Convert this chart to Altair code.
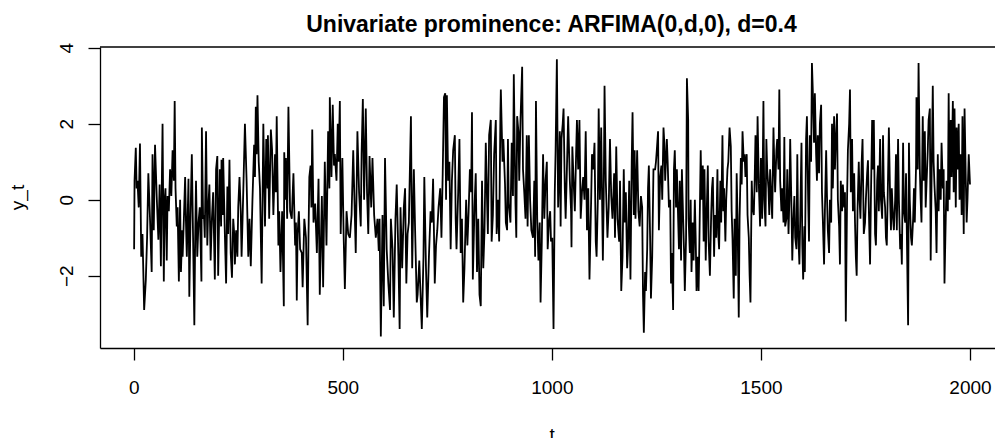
import altair as alt
import pandas as pd

# (t, y_t) readings of the series, grouped by stretch of the time axis
seg_a = [(1,-1.3),(2,0.5),(5,1.37),(7,0.3),(9,0.5),(12,-0.2),(15,1.48),(18,-1.5),(21,-0.9),(25,-2.9),(29,-2.1),(32,-1.0),(35,0.7),(39,-0.5),(43,-1.9),(45,1.2),(48,-0.8),(51,1.45),(55,0.1),(59,-1.05),(62,0.4),(65,-1.75),(67,0.2),(69,2.0),(72,-2.15),(74,0.0),(76,0.3),(79,-1.6),(81,0.1),(84,-0.3),(87,0.8),(90,0.1),(93,1.3),(96,0.5),(98,2.6),(100,0.3),(103,-0.7),(105,-0.2),(108,-2.15),(111,0.0),(113,-1.9),(116,-0.8),(117,-1.5),(120,-0.5),(123,0.6),(125,-0.6),(127,-1.5),(131,0.55),(133,-2.55),(136,-0.4),(139,1.2),(142,-1.0),(145,-3.3),(147,-1.0),(149,0.5),(152,-1.5),(155,-0.6),(158,-0.2),(162,-2.15),(163,1.9),(166,-0.5),(168,-0.4),(170,-1.0),(173,1.8),(176,-1.2),(178,-0.3),(181,0.4),(184,-1.6),(187,-0.5),(190,0.2),(194,-2.1),(197,0.8),(200,1.15),(202,-2.0),(205,0.0),(206,0.8),(209,-0.7),(210,1.05),(213,-0.4),(214,1.1),(218,-0.9),(221,-2.2),(224,0.35),(226,-0.9),(229,1.05),(232,-1.4),(235,-2.05),(238,-0.5),(241,-1.0),(242,-1.7),(245,-0.8),(248,-1.5),(250,-0.2),(253,0.6),(256,-0.3),(258,-1.5),(262,0.2),(266,2.0),(270,0.5),(274,-1.5),(277,-0.5),(280,-1.75),(284,0.0),(288,1.45),(290,0.6),(292,2.45),(294,1.2),(296,2.75),(299,1.0),(302,0.3),(306,-2.2),(310,2.0),(314,-0.7),(317,1.6),(320,0.3),(321,1.7),(324,-0.5),(328,1.85),(331,1.3),(334,-0.4),(338,1.2),(340,0.2),(342,2.2),(346,-1.2),(348,-0.3),(351,-1.9),(355,-0.3),(359,-2.8),(360,1.25),(363,0.0),(364,1.1),(367,-0.5),(370,2.45),(374,-0.3),(378,-0.5),(382,0.7),(386,-1.2),(388,-0.6),(390,-2.65),(392,-0.9),(395,-0.3),(398,-1.3),(402,-1.4),(404,-2.3),(408,-0.5),(412,-1.0),(416,-3.3),(418,-1.0),(420,0.6),(423,0.9),(425,-0.2),(427,1.85),(430,-0.6),(434,-0.1),(438,-1.4),(442,0.55),(445,-2.5),(450,0.1),(453,-2.3),(457,1.0),(461,-1.2),(465,1.8),(468,0.3)]

seg_b = [(469,2.7),(473,0.6),(476,2.5),(479,0.9),(481,1.2),(485,0.5),(488,2.0),(490,1.0),(493,2.6),(495,-0.9),(499,1.1),(502,-0.9),(505,-2.35),(509,-0.3),(513,-0.9),(517,-1.0),(521,-0.4),(525,1.3),(529,-0.5),(531,-1.4),(535,1.8),(539,0.2),(543,-0.7),(545,1.2),(548,2.65),(551,0.0),(555,2.4),(558,0.2),(561,-0.9),(564,1.15),(568,-0.2),(571,1.1),(575,-0.4),(579,-1.0),(583,-0.5),(586,-1.35),(588,-0.5),(591,-3.6),(595,-0.4),(598,-2.8),(601,1.1),(605,-1.3),(609,-2.2),(613,-2.9),(615,-0.5),(619,-1.3),(622,-3.1),(626,-0.5),(629,0.4),(633,-1.5),(636,-3.4),(638,-0.2),(642,-1.8),(646,-0.2),(649,0.3),(652,-2.2),(655,-0.9),(658,-0.6),(663,2.2),(666,-1.8),(670,0.8),(673,-0.8),(677,-2.7),(679,-2.5),(683,-1.6),(686,-2.5),(689,-3.4),(693,-1.5),(695,0.6),(699,-1.8),(702,-3.1),(706,-1.5),(710,-0.3),(713,-0.6),(716,0.55),(720,-2.2),(723,-1.2),(726,-0.8),(729,-0.2),(733,0.3),(736,-1.0),(739,0.7),(742,2.7)]

seg_c = [(745,2.8),(747,0.0),(749,2.75),(752,0.5),(755,1.0),(758,-1.3),(761,0.5),(764,1.3),(768,1.7),(770,-0.5),(772,-1.3),(776,0.2),(779,1.6),(782,-1.4),(785,-0.5),(788,-2.7),(791,-1.8),(795,0.0),(798,-1.2),(801,-0.3),(804,0.8),(807,0.2),(809,2.3),(811,-2.1),(815,-0.2),(818,0.7),(821,-1.9),(824,-0.5),(827,-2.5),(830,-2.8),(833,0.5),(836,-1.8),(839,-0.8),(842,1.5),(845,0.0),(847,-0.9),(850,1.7),(854,2.1),(856,-1.1),(859,-0.4),(862,1.2),(866,2.1),(868,-0.9),(871,0.0),(874,-1.1),(877,2.3),(878,2.9),(882,1.0),(884,1.6),(888,0.4),(890,-0.6),(893,-0.8),(895,1.6),(897,-0.1),(901,-0.6),(904,1.5),(907,0.1),(909,3.3),(913,-0.1),(915,-1.0),(917,2.2),(920,1.8),(922,0.5),(925,2.1),(929,3.5),(931,0.8),(934,0.2),(937,-0.5),(940,1.7),(942,-0.7),(945,1.7),(948,0.0),(951,-0.8),(955,-1.0),(958,0.5),(960,-1.5),(962,2.6),(965,-0.5),(968,-1.6),(971,-0.6),(973,-2.7),(976,-1.1),(979,1.2),(982,-0.5),(985,0.5),(988,1.0),(990,-1.3),(993,-0.6)]

seg_d = [(996,-0.3),(998,-1.1),(1001,-1.0),(1004,-3.4),(1007,0.2),(1009,1.3),(1012,3.7),(1015,-0.2),(1017,0.6),(1019,1.8),(1021,-0.7),(1023,1.6),(1026,2.0),(1028,2.4),(1031,0.3),(1033,-0.5),(1036,0.8),(1039,2.2),(1043,0.5),(1046,-0.3),(1047,-1.25),(1049,1.4),(1052,0.5),(1055,-0.3),(1058,1.2),(1060,2.1),(1063,0.8),(1066,2.1),(1069,-0.5),(1072,0.2),(1075,0.6),(1078,0.0),(1081,1.8),(1084,-0.8),(1087,0.3),(1090,-2.1),(1094,0.0),(1096,1.2),(1099,0.8),(1102,1.5),(1105,-1.1),(1107,-1.5),(1110,0.0),(1112,2.4),(1115,0.0),(1118,1.9),(1122,-1.6),(1124,0.0),(1126,3.0),(1129,0.5),(1133,-1.0),(1136,-0.2),(1139,1.6),(1142,0.1),(1145,-0.5),(1149,0.7),(1151,-1.0),(1154,1.4),(1157,-0.5),(1161,-1.1),(1163,0.5),(1166,-2.4),(1169,-1.5),(1172,0.8),(1174,-0.6),(1177,0.2),(1180,-1.8),(1182,-1.3),(1185,0.5),(1188,-2.1),(1191,1.0),(1193,2.3),(1196,-0.4),(1198,1.3),(1200,-0.5),(1204,1.3),(1207,-0.3),(1210,-0.7),(1213,0.1),(1216,-0.2),(1218,-2.5),(1220,-3.5),(1223,-1.9),(1225,-2.4),(1228,-1.3),(1230,0.3),(1232,0.9),(1235,-1.0),(1237,-2.6),(1240,-1.5),(1243,0.8)]

seg_e = [(1247,0.8),(1249,1.0),(1251,1.3),(1254,1.8),(1256,-0.8),(1259,0.6),(1262,0.9),(1264,0.0),(1267,1.9),(1269,1.5),(1271,0.5),(1275,1.6),(1277,1.0),(1280,-0.2),(1283,0.0),(1285,-2.2),(1287,-1.4),(1290,-2.9),(1292,0.8),(1294,1.3),(1297,-0.2),(1299,0.8),(1302,-0.5),(1304,-1.3),(1306,0.5),(1309,-1.6),(1311,0.8),(1314,-0.5),(1316,-1.3),(1318,-2.4),(1321,-1.0),(1323,3.2),(1326,2.1),(1327,-0.5),(1330,-1.4),(1332,0.0),(1334,-1.9),(1337,-0.6),(1339,-1.6),(1342,0.0),(1344,-1.0),(1346,-2.4),(1349,-1.5),(1351,-2.4),(1353,-1.0),(1356,1.3),(1358,0.0),(1361,0.9),(1363,-1.1),(1365,0.8),(1368,-1.6),(1370,-0.5),(1373,0.9),(1375,-1.1),(1378,-2.0),(1381,-0.4),(1383,0.3),(1385,0.6),(1388,-1.5),(1390,-0.4),(1393,-1.0),(1396,0.8),(1398,-0.9),(1400,-1.3),(1403,0.5),(1405,-0.6),(1408,1.7),(1410,-0.3),(1412,0.3),(1415,-1.1),(1417,0.0),(1420,0.8),(1422,1.0),(1425,1.9),(1428,1.4),(1430,-0.3),(1432,-1.0),(1435,-2.6),(1437,-0.5),(1440,-2.0),(1442,0.7),(1444,-0.4),(1447,-3.1),(1449,-0.5),(1452,1.1),(1454,0.4),(1456,1.8),(1459,1.0),(1461,1.2),(1463,0.6),(1466,1.2),(1468,-0.4),(1471,-1.0),(1473,-2.0),(1475,-2.7),(1478,0.5),(1480,-0.2),(1483,-0.4),(1485,0.5),(1487,1.7),(1490,0.2),(1492,2.2),(1495,0.4)]

seg_f = [(1498,-0.7),(1500,1.1),(1503,-0.5),(1506,2.6),(1508,0.0),(1511,-0.7),(1513,1.6),(1515,0.8),(1518,0.3),(1520,-0.4),(1522,0.8),(1525,0.0),(1527,-0.5),(1530,1.9),(1532,0.9),(1534,0.2),(1537,1.3),(1539,1.6),(1542,0.8),(1544,2.9),(1546,0.5),(1549,-0.3),(1551,0.3),(1554,-0.6),(1556,1.65),(1558,-0.7),(1561,-0.5),(1563,0.8),(1566,-0.9),(1568,0.0),(1570,1.6),(1573,-0.2),(1575,-1.6),(1577,-0.7),(1580,0.1),(1582,-1.0),(1585,-1.3),(1587,1.2),(1589,-0.8),(1592,-1.7),(1594,-0.5),(1597,1.5),(1599,-1.2),(1601,-2.1),(1604,-0.7),(1605,-1.9),(1608,1.6),(1610,2.2),(1613,0.0),(1615,-1.1),(1617,1.7),(1620,1.0),(1622,3.6),(1624,2.9),(1627,1.5),(1629,2.8),(1632,1.2),(1634,0.5),(1636,1.7),(1639,0.7),(1641,2.0),(1644,2.5),(1646,0.2),(1648,-0.5),(1651,-1.7),(1653,-0.3),(1656,1.3),(1658,0.1),(1660,-0.8),(1663,-1.4),(1665,0.0),(1668,-0.6),(1670,2.0),(1672,0.3),(1675,2.2),(1677,0.8),(1679,1.5),(1682,2.27),(1684,0.0),(1687,-0.7),(1689,-1.7),(1691,0.5),(1694,-0.3),(1696,0.4),(1699,-0.2),(1701,0.2),(1703,-3.2),(1706,0.0),(1708,1.3),(1711,2.0),(1713,2.9),(1715,0.2),(1718,1.6),(1720,-0.3),(1723,0.7),(1725,-0.6),(1727,-1.5),(1729,-2.0),(1731,-0.3),(1734,1.0),(1736,0.0),(1738,-0.5),(1741,1.0),(1743,1.6),(1746,-0.9)]

seg_g = [(1749,-0.6),(1751,0.0),(1754,0.7),(1756,1.04),(1758,-0.2),(1761,-1.7),(1763,0.0),(1766,2.1),(1768,0.8),(1770,2.1),(1773,-0.9),(1775,-1.2),(1778,0.5),(1780,0.9),(1782,-0.3),(1785,1.6),(1787,0.0),(1790,-0.5),(1792,1.7),(1794,0.2),(1797,-0.2),(1799,-1.0),(1801,-1.2),(1804,0.6),(1806,1.9),(1809,0.0),(1811,-0.8),(1813,0.3),(1816,-0.5),(1818,-0.8),(1821,0.0),(1823,1.2),(1825,-0.8),(1828,1.6),(1830,0.0),(1833,-1.3),(1835,-0.9),(1837,-1.7),(1840,1.5),(1842,-0.3),(1845,-0.6),(1847,0.7),(1849,-0.9),(1852,-3.3),(1854,1.5),(1856,0.0),(1859,-1.0),(1861,-1.2),(1864,-0.5),(1866,0.3),(1868,-0.6),(1871,0.9),(1872,2.7),(1875,0.8),(1877,3.6),(1880,0.8),(1882,0.0),(1884,-0.6),(1887,2.2),(1889,0.5),(1892,1.8),(1894,-0.2),(1896,0.4),(1899,1.3),(1901,2.1),(1904,2.4),(1906,-1.6),(1908,0.4),(1911,3.0),(1913,1.0),(1915,0.4),(1918,-0.3),(1920,-1.4),(1923,1.2),(1925,-0.3),(1927,0.8),(1930,0.0),(1932,1.5),(1935,0.3),(1937,0.8),(1939,-2.2),(1942,-0.5),(1944,0.5),(1947,-0.3),(1949,2.8),(1951,0.0),(1954,2.1),(1956,0.6),(1959,2.6),(1961,0.2),(1963,2.4),(1966,-0.2),(1968,1.9),(1970,0.8),(1973,2.0),(1975,0.0),(1978,1.2),(1980,-0.4),(1982,2.2),(1985,-0.9),(1987,2.4),(1990,0.5),(1992,-0.6),(1994,0.0),(1997,1.2),(2000,0.4)]

x_ticks = [0, 500, 1000, 1500, 2000]
y_ticks = [-2, 0, 2, 4]
title_text = "Univariate prominence: ARFIMA(0,d,0), d=0.4"

segments = [seg_a, seg_b, seg_c, seg_d, seg_e, seg_f, seg_g]
df = pd.DataFrame([{"t": t, "y": y} for seg in segments for (t, y) in seg])

W, H = 895, 301
FONT = "Liberation Sans"

line = alt.Chart(df).mark_line(color="black", strokeWidth=1.8, clip=True).encode(
    x=alt.X(
        "t:Q",
        scale=alt.Scale(domain=[-80.6, 2059.8], nice=False, zero=False),
        axis=alt.Axis(
            values=x_ticks, title="t", grid=False, format="d",
            labelPadding=18, titleX=451.7, titleY=92,
            titleBaseline="alphabetic", titleAlign="center",
        ),
    ),
    y=alt.Y(
        "y:Q",
        scale=alt.Scale(domain=[-3.9, 4.02], nice=False, zero=False),
        axis=alt.Axis(
            values=y_ticks, title="y_t", grid=False,
            labelAngle=270, labelAlign="center", labelBaseline="bottom",
            labelPadding=12, titleAngle=270, titleX=-77, titleY=150,
            titleBaseline="alphabetic", titleAlign="center",
        ),
    ),
)

one = pd.DataFrame({"label": [title_text]})

top_edge = alt.Chart(one).mark_rule(
    color="black", strokeWidth=1.3
).encode(x=alt.value(0), x2=alt.value(W), y=alt.value(0))

title_mark = alt.Chart(one).mark_text(
    font=FONT, fontSize=23, fontWeight="bold", color="black",
    align="center", baseline="alphabetic", clip=False,
).encode(text="label:N", x=alt.value(451.5), y=alt.value(-15))

chart = (
    alt.layer(line, top_edge, title_mark)
    .properties(
        width=W,
        height=H,
        autosize=alt.AutoSizeParams(type="none"),
        padding={"left": 100, "top": 47, "right": 0, "bottom": 90},
        background="white",
    )
    .configure_view(strokeWidth=0)
    .configure_axis(
        labelFont=FONT, labelFontSize=19, labelColor="black",
        titleFont=FONT, titleFontSize=19, titleFontWeight="normal",
        titleColor="black", tickSize=12, tickColor="black", tickWidth=1.3,
        domainColor="black", domainWidth=1.3,
    )
)

chart.save("out.html", embed_options={"renderer": "svg", "actions": False})
